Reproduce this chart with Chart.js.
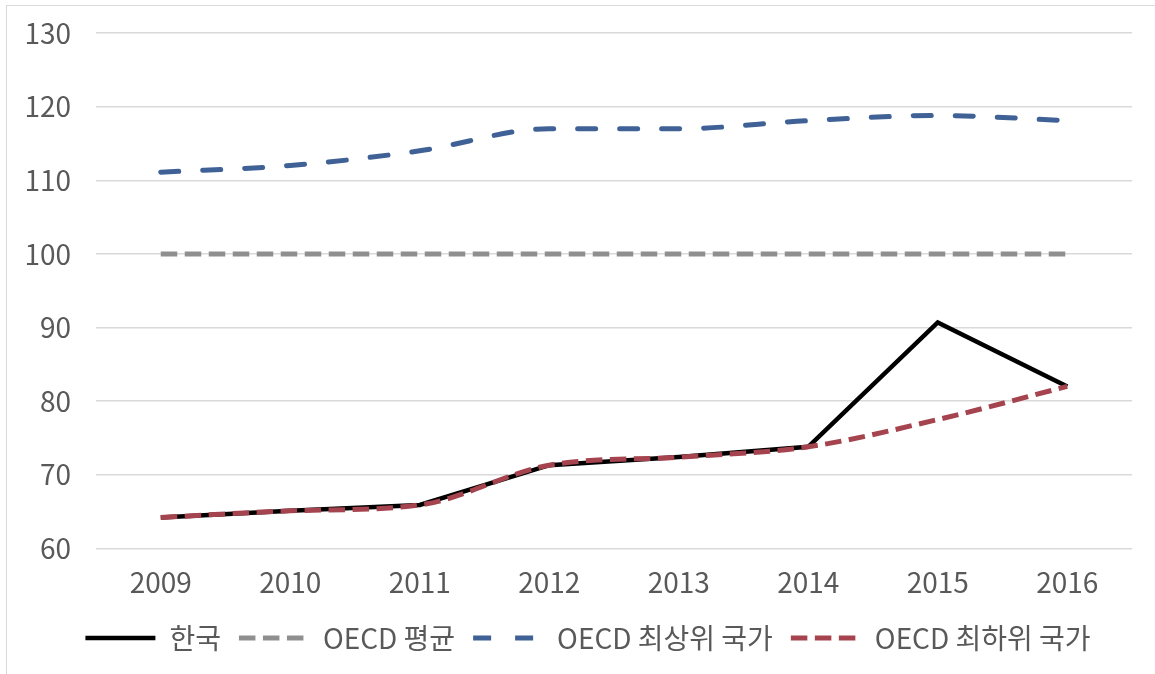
<!DOCTYPE html>
<html lang="ko">
<head>
<meta charset="utf-8">
<title>OECD 비교</title>
<script src="https://cdn.jsdelivr.net/npm/chart.js@4.4.1/dist/chart.umd.min.js"></script>
<style>
  html, body { margin: 0; padding: 0; background: #fff; }
  #wrap { position: relative; width: 1155px; height: 674px; }
  #frame { position: absolute; left: 6px; top: 5px; right: 0; bottom: 0;
           border-top: 1px solid #d9d9d9; border-left: 1px solid #d9d9d9; }
  canvas { position: absolute; left: 0; top: 0; }
</style>
</head>
<body>
<div id="wrap">
  <div id="frame"></div>
  <canvas id="chart" width="1155" height="674"></canvas>
</div>
<script>
// 데이터
const years = ['2009', '2010', '2011', '2012', '2013', '2014', '2015', '2016'];
const korea = [64.2, 65.1, 65.9, 71.3, 72.4, 73.8, 90.7, 82.0];
const oecdAvg = [100, 100, 100, 100, 100, 100, 100, 100];
const oecdTop = [111.1, 112.0, 114.0, 117.0, 117.0, 118.1, 118.8, 118.1];
const oecdBottom = [64.2, 65.1, 65.9, 71.3, 72.4, 73.8, 77.5, 82.0];
const yTicks = [60, 70, 80, 90, 100, 110, 120, 130];

const fontFamily = "'Noto Sans CJK KR', 'Noto Sans', sans-serif";
const textColor = '#595959';

// 범례를 오른쪽으로 조금 이동
const legendShift = {
    id: 'legendShift',
    afterLayout(chart) {
        chart.legend.left += 22;
        chart.legend.right += 22;
    }
};

const ctx = document.getElementById('chart').getContext('2d');
const chart = new Chart(ctx, {
    type: 'line',
    data: {
        labels: years,
        datasets: [
            {
                label: '한국',
                data: korea,
                borderColor: '#000000',
                borderWidth: 4.5,
                borderDash: [],
                tension: 0,
                order: 1
            },
            {
                label: 'OECD 평균',
                data: oecdAvg,
                borderColor: '#8f8f8f',
                borderWidth: 5,
                borderDash: [16.5, 7.5],
                order: 3
            },
            {
                label: 'OECD 최상위 국가',
                data: oecdTop,
                borderColor: '#3f6196',
                borderWidth: 5,
                borderDash: [18, 24],
                borderCapStyle: 'round',
                cubicInterpolationMode: 'monotone',
                order: 2
            },
            {
                label: 'OECD 최하위 국가',
                data: oecdBottom,
                borderColor: '#a5444e',
                borderWidth: 5,
                borderDash: [16.5, 7.5],
                cubicInterpolationMode: 'monotone',
                order: 0
            }
        ]
    },
    plugins: [legendShift],
    options: {
        responsive: false,
        animation: false,
        elements: {
            point: { radius: 0, hoverRadius: 0 },
            line: { fill: false }
        },
        layout: {
            padding: { top: 33, right: 23, left: 0, bottom: 12 }
        },
        scales: {
            x: {
                offset: true,
                grid: { display: false, drawTicks: false, offset: true },
                border: { display: false },
                afterFit: function(scale) {
                    scale.height -= 10;
                },
                ticks: {
                    color: textColor,
                    font: { family: fontFamily, size: 28 },
                    padding: 17,
                    maxRotation: 0
                }
            },
            y: {
                min: 60,
                max: 130,
                afterBuildTicks: function(scale) {
                    scale.ticks = yTicks.map(v => ({ value: v }));
                },
                afterFit: function(scale) {
                    scale.width = 96;
                    scale.paddingTop = 0;
                    scale.paddingBottom = 0;
                },
                grid: { color: '#d9d9d9', lineWidth: 1.5, drawTicks: false },
                border: { display: false },
                ticks: {
                    color: textColor,
                    font: { family: fontFamily, size: 28 },
                    padding: 25
                }
            }
        },
        plugins: {
            legend: {
                position: 'bottom',
                labels: {
                    usePointStyle: true,
                    pointStyle: 'line',
                    pointStyleWidth: 70,
                    color: textColor,
                    font: { family: fontFamily, size: 28 },
                    padding: 18,
                    generateLabels: function(chart) {
                        return chart.data.datasets.map((ds, i) => ({
                            text: ds.label,
                            datasetIndex: i,
                            fillStyle: ds.borderColor,
                            strokeStyle: ds.borderColor,
                            lineWidth: ds.borderWidth,
                            lineDash: ds.borderDash,
                            lineCap: 'butt',
                            pointStyle: 'line',
                            fontColor: textColor,
                            hidden: false
                        }));
                    }
                }
            },
            tooltip: { enabled: false }
        }
    }
});
</script>
</body>
</html>
